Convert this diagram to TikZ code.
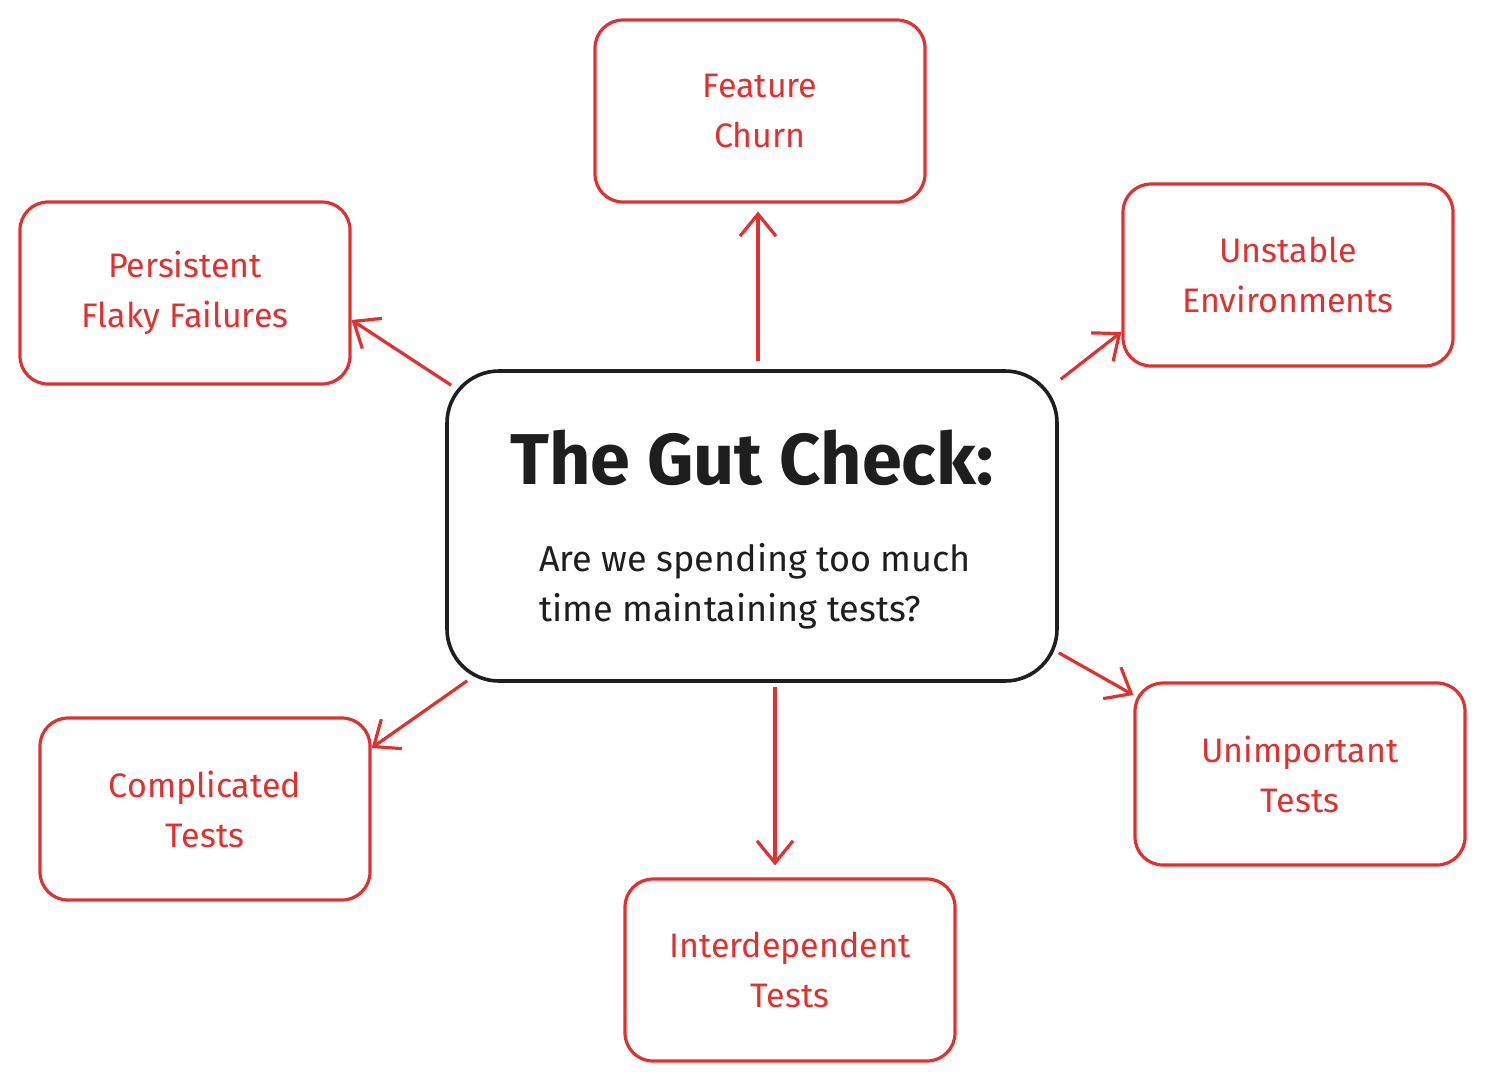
\documentclass[tikz,border=0pt]{standalone}
\usepackage{fontspec}
\setmainfont{Fira Sans}
\usetikzlibrary{arrows.meta}
\definecolor{rd}{HTML}{E03131}
\definecolor{bk}{HTML}{1E1E1E}
\begin{document}
\begin{tikzpicture}[x=0.5pt,y=-0.5pt,
  box/.style={draw=rd,line width=1.6pt,rounded corners=14pt,minimum width=165pt,minimum height=91pt,text=rd,font=\fontsize{17}{25}\selectfont,align=center},
  arr/.style={draw=rd,line width=1.6pt,-{Straight Barb[length=11pt,width=18pt]}}]
\useasboundingbox (0,0) rectangle (1486,1082);
\node[draw=bk,line width=1.8pt,rounded corners=26pt,minimum width=305pt,minimum height=155pt] (c) at (752,526) {};
\node[font=\fontsize{36}{40}\selectfont\bfseries,text=bk] (t) at (752,458) {The Gut Check:};
\node[font=\fontsize{18}{25}\selectfont,text=bk,align=left] (s) at (755,586) {Are we spending too much\\time maintaining tests?};
\node[box] (f) at (760,111) {Feature\\Churn};
\node[box] (p) at (185,293) {Persistent\\Flaky Failures};
\node[box] (u) at (1288,275) {Unstable\\Environments};
\node[box] (cm) at (205,809) {Complicated\\Tests};
\node[box] (i) at (790,970) {Interdependent\\Tests};
\node[box] (ui) at (1300,774) {Unimportant\\Tests};
\draw[arr,shorten >=4pt] (c.north) ++(6,-8) coordinate (a1) (a1) -- (a1 |- f.south);
\draw[arr] (c.north west) ++(6,16) coordinate (a2) (a2) -- (p.east |- 0,320);
\draw[arr] (c.north east) ++(2,10) coordinate (a3) (a3) -- (u.west |- 0,332);
\draw[arr] (c.south west) ++(22,-2) coordinate (a4) (a4) -- (cm.east |- 0,748);
\draw[arr,shorten >=6pt] (c.south) ++(23,4) coordinate (a5) (a5) -- (a5 |- i.north);
\draw[arr] (c.south east) ++(0,-30) coordinate (a6) (a6) -- (ui.west |- 0,695);
\end{tikzpicture}
\end{document}
